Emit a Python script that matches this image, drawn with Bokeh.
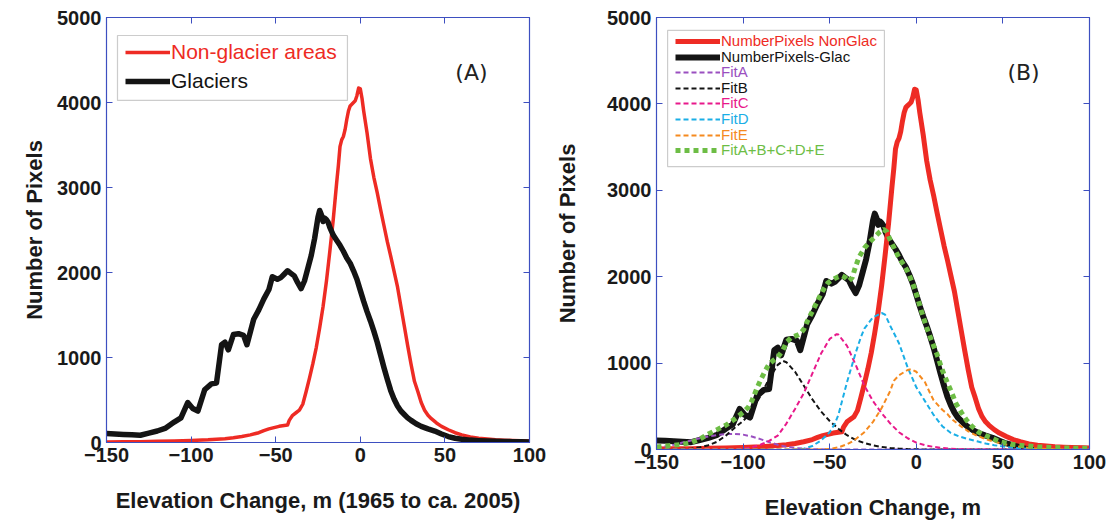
from bokeh.plotting import figure
from bokeh.layouts import row
from bokeh.models import (Range1d, LinearAxis, FixedTicker, Legend, LegendItem,
                          BoxAnnotation, Label)
from bokeh.embed import file_html
from bokeh.resources import INLINE

# ---------------- data ----------------
x_ticks = [-150, -100, -50, 0, 50, 100]
y_ticks = [0, 1000, 2000, 3000, 4000, 5000]

glac_x = [-150, -145, -140, -135, -130, -125, -120, -115, -110, -106, -102, -99, -96, -92,
          -88, -85, -82, -80, -78, -75, -72, -69, -67, -65, -63, -60, -57, -54, -52, -49,
          -47, -45, -43, -41, -39, -37, -35, -33, -31, -29, -27, -25, -24, -23, -22, -21,
          -20, -19, -18, -16, -14, -12, -10, -8, -6, -4, -2, 0, 2, 4, 6, 8, 10, 12, 14, 16,
          18, 20, 22, 24, 26, 28, 30, 33, 36, 40, 44, 48, 52, 56, 60, 65, 70, 75, 80, 85,
          90, 95, 100]
glac_y = [105, 100, 95, 90, 85, 110, 135, 170, 240, 290, 470, 400, 370, 620,
          690, 700, 1150, 1180, 1090, 1270, 1280, 1260, 1150, 1300, 1450, 1560, 1690, 1800, 1950, 1920,
          1940, 1980, 2020, 1990, 1960, 1880, 1810, 1900, 2050, 2200, 2400, 2650, 2730, 2680, 2600, 2640,
          2620, 2590, 2530, 2440, 2380, 2320, 2250, 2170, 2110, 2020, 1920, 1790, 1660, 1540, 1430, 1310,
          1180, 1030, 880, 740, 610, 510, 430, 370, 330, 290, 260, 220, 190, 160, 135, 100, 70, 50,
          38, 28, 22, 18, 15, 12, 10, 8, 6]

nonglac_x = [-150, -140, -130, -120, -110, -100, -90, -80, -75, -70, -65, -60, -57, -54, -51,
             -48, -45, -43, -42, -40, -38, -36, -34, -32, -30, -28, -26, -24, -22, -20, -18,
             -16, -14, -13, -12, -11, -10, -9, -8, -7, -6, -5, -4, -3, -2, -1, 0, 1, 2, 4, 6,
             8, 10, 12, 14, 16, 18, 20, 22, 24, 26, 28, 30, 32, 34, 36, 38, 40, 42, 45, 48, 52,
             56, 60, 65, 70, 75, 80, 85, 90, 95, 100]
nonglac_y = [5, 8, 10, 14, 18, 24, 32, 45, 55, 70, 90, 115, 140, 160, 175,
             190, 200, 205, 260, 320, 350, 380, 450, 600, 760, 930, 1120, 1350, 1600, 1900, 2250,
             2620, 3050, 3250, 3480, 3560, 3600, 3680, 3800, 3900, 3960, 3980, 4000, 4020, 4080, 4170, 4160,
             4050, 3900, 3640, 3340, 3120, 2940, 2740, 2550, 2360, 2190, 2010, 1830, 1600, 1370, 1140, 920,
             720, 600, 470, 380, 320, 280, 230, 190, 150, 115, 90, 65, 50, 40, 32, 27, 24, 21, 18]

fitA_x = [-150, -145, -140, -135, -130, -125, -120, -115, -110, -105, -100, -95, -90, -85,
          -80, -75, -70, -65, -60, -55, -50, -40, 0, 50, 100]
fitA_y = [20, 35, 55, 80, 105, 130, 150, 168, 178, 181, 172, 150, 120, 85,
          55, 32, 18, 9, 4, 2, 1, 0, 0, 0, 0]

fitB_x = [-150, -140, -130, -125, -120, -115, -110, -105, -100, -95, -90, -85, -80, -77,
          -75, -70, -65, -60, -55, -50, -45, -40, -35, -30, -25, -20, -15, -10, -5, 0, 5,
          50, 100]
fitB_y = [0, 2, 10, 25, 50, 90, 160, 250, 330, 440, 620, 820, 980, 1025,
          1010, 900, 740, 580, 440, 330, 240, 165, 110, 75, 48, 30, 18, 10, 5, 2, 1,
          0, 0]

fitC_x = [-150, -110, -100, -95, -90, -85, -80, -75, -70, -65, -60, -55, -50, -46, -45,
          -40, -35, -30, -25, -20, -15, -10, -5, 0, 5, 10, 15, 20, 25, 30, 35, 100]
fitC_y = [0, 2, 10, 25, 55, 100, 160, 300, 470, 650, 880, 1110, 1280, 1335, 1330,
          1200, 980, 740, 560, 420, 300, 200, 130, 80, 50, 30, 18, 10, 5, 2, 0, 0]

fitD_x = [-150, -70, -65, -60, -55, -50, -47, -45, -40, -35, -32, -30, -25, -20, -18,
          -15, -10, -5, 0, 5, 10, 15, 20, 25, 30, 35, 40, 45, 50, 55, 60, 65, 70, 80, 90, 100]
fitD_y = [0, 0, 10, 40, 105, 200, 300, 400, 780, 1120, 1300, 1400, 1530, 1580, 1560,
          1430, 1230, 950, 720, 560, 400, 270, 190, 150, 120, 95, 70, 50, 35, 22, 14, 8, 5, 2, 0, 0]

fitE_x = [-150, -60, -50, -45, -40, -36, -30, -25, -20, -15, -13, -10, -5, -3, 0, 5, 8,
          10, 15, 18, 20, 25, 30, 35, 40, 45, 50, 55, 60, 65, 70, 75, 80, 90, 100]
fitE_y = [0, 0, 5, 25, 60, 104, 200, 320, 480, 680, 795, 860, 920, 930, 900, 780, 650,
          570, 460, 410, 360, 280, 210, 160, 120, 90, 65, 45, 30, 20, 12, 7, 4, 2, 1]

fitSum_x = [-150, -145, -140, -135, -130, -125, -120, -115, -110, -105, -100, -97, -95, -92,
            -90, -87, -85, -82, -80, -77, -75, -72, -69, -67, -65, -63, -60, -57, -54, -51,
            -48, -45, -43, -41, -39, -37, -35, -33, -30, -27, -24, -21, -19, -17, -15, -12,
            -10, -7, -5, -2, 0, 3, 6, 9, 12, 15, 18, 20, 23, 26, 29, 32, 36, 40, 43, 48, 55,
            62, 70, 80, 90, 100]
fitSum_y = [30, 40, 50, 60, 80, 120, 180, 230, 280, 350, 430, 490, 560, 710,
            800, 920, 990, 1040, 1070, 1150, 1240, 1300, 1320, 1340, 1390, 1480, 1600, 1720, 1840, 1930,
            1970, 2000, 2010, 1990, 1950, 1990, 2120, 2230, 2330, 2400, 2460, 2520, 2550, 2520, 2420, 2300,
            2220, 2130, 2060, 1920, 1800, 1600, 1410, 1250, 1100, 920, 770, 680, 530, 430, 340, 270, 200,
            160, 140, 90, 60, 45, 30, 22, 16, 12]

# ---------------- styles ----------------
AX_BLUE = "#3d4fc0"
RED = "#ee2b24"
BLACK = "#141414"
PURPLE = "#9a4fc0"
MAGENTA = "#e8198b"
CYAN = "#1aaee6"
ORANGE = "#f58a1f"
GREEN = "#6dbd45"
BOLD_FONT = "Liberation Sans"


def make_fig(fw, fh, bl, bt, bb, br, xlabel, ylab_standoff, xlab_standoff):
    p = figure(frame_width=fw, frame_height=fh,
               min_border_left=bl, min_border_top=bt, min_border_bottom=bb, min_border_right=br,
               x_range=Range1d(-150, 100), y_range=Range1d(0, 5000),
               output_backend="svg", toolbar_location=None,
               x_axis_label=xlabel, y_axis_label="Number of Pixels")
    p.grid.visible = False
    p.outline_line_color = AX_BLUE
    p.background_fill_color = "white"
    p.border_fill_color = "white"
    p.xaxis.ticker = FixedTicker(ticks=x_ticks)
    p.yaxis.ticker = FixedTicker(ticks=y_ticks)
    for ax in list(p.xaxis) + list(p.yaxis):
        ax.axis_line_color = AX_BLUE
        ax.axis_line_width = 1.2
        ax.major_tick_line_color = AX_BLUE
        ax.major_tick_in = 6
        ax.major_tick_out = 0
        ax.minor_tick_line_color = None
        ax.major_label_text_font = BOLD_FONT
        ax.major_label_text_font_style = "bold"
        ax.major_label_text_font_size = "20px"
        ax.major_label_text_color = "#1a1a1a"
        ax.major_label_standoff = 5
        ax.axis_label_text_font = BOLD_FONT
        ax.axis_label_text_font_style = "bold"
        ax.axis_label_text_font_size = "22px"
        ax.axis_label_text_color = "#1a1a1a"
    p.yaxis.axis_label_standoff = ylab_standoff
    p.xaxis.axis_label_standoff = xlab_standoff
    for ticks, side in ((x_ticks, "above"), (y_ticks, "right")):
        ax = LinearAxis(ticker=FixedTicker(ticks=ticks))
        ax.axis_line_color = AX_BLUE
        ax.axis_line_width = 1.2
        ax.major_tick_line_color = AX_BLUE
        ax.major_tick_in = 6
        ax.major_tick_out = 0
        ax.minor_tick_line_color = None
        ax.major_label_text_color = None
        ax.major_label_text_font_size = "0px"
        ax.major_label_standoff = 0
        p.add_layout(ax, side)
    return p


def add_legend(p, r, text, color, x, y, size, gh):
    lg = Legend(items=[LegendItem(label=text, renderers=[r])], location=(x, y),
                border_line_color=None, background_fill_alpha=0, padding=0, margin=0, spacing=0,
                glyph_width=45, glyph_height=gh, label_height=gh, label_standoff=1,
                label_text_font="Liberation Sans", label_text_font_size=size,
                label_text_color=color, label_text_baseline="middle")
    p.add_layout(lg, "center")


# ---------------- panel A ----------------
pA = make_fig(423, 425, 106, 17, 75, 23, "Elevation Change, m (1965 to ca. 2005)", 7, 23)
rA_red = pA.line(nonglac_x, nonglac_y, line_color=RED, line_width=3.5, line_join="round")
rA_blk = pA.line(glac_x, glac_y, line_color=BLACK, line_width=5.5, line_join="round")
pA.add_layout(BoxAnnotation(left=-143.5, right=-7.6, bottom=4024, top=4788,
                            fill_color=None, line_color="#555555", line_width=1.2))
add_legend(pA, rA_red, "Non-glacier areas", RED, 19, 378, "21px", 22)
add_legend(pA, rA_blk, "Glaciers", BLACK, 19, 349, "21px", 22)
pA.add_layout(Label(x=65.7, y=4353, text="(A)", text_align="center", text_baseline="middle",
                    text_font="DejaVu Sans", text_font_size="22px", text_color="#222222"))

# ---------------- panel B ----------------
pB = make_fig(433, 432, 104, 17, 75, 19, "Elevation Change, m", 24, 23)
rB_blk = pB.line(glac_x, glac_y, line_color=BLACK, line_width=6, line_join="round")
rB_red = pB.line(nonglac_x, nonglac_y, line_color=RED, line_width=5, line_join="round")
rB_A = pB.line(fitA_x, fitA_y, line_color=PURPLE, line_width=2, line_dash="5 3")
rB_B = pB.line(fitB_x, fitB_y, line_color=BLACK, line_width=2, line_dash="5 3")
rB_C = pB.line(fitC_x, fitC_y, line_color=MAGENTA, line_width=2, line_dash="5 3")
rB_D = pB.line(fitD_x, fitD_y, line_color=CYAN, line_width=2, line_dash="5 3")
rB_E = pB.line(fitE_x, fitE_y, line_color=ORANGE, line_width=2, line_dash="5 3")
rB_S = pB.line(fitSum_x, fitSum_y, line_color=GREEN, line_width=5, line_dash="5 4")
pB.add_layout(BoxAnnotation(left=-143.6, right=-18.4, bottom=3275, top=4850,
                            fill_color=None, line_color="#555555", line_width=1.2))
rows_y = [400, 384, 369, 353, 338, 322, 306, 291]
entries = [(rB_red, "NumberPixels NonGlac", RED), (rB_blk, "NumberPixels-Glac", BLACK),
           (rB_A, "FitA", PURPLE), (rB_B, "FitB", BLACK), (rB_C, "FitC", MAGENTA),
           (rB_D, "FitD", CYAN), (rB_E, "FitE", ORANGE), (rB_S, "FitA+B+C+D+E", GREEN)]
for (r, t, c), yy in zip(entries, rows_y):
    add_legend(pB, r, t, c, 19, yy, "15px", 14)
pB.add_layout(Label(x=61.9, y=4363, text="(B)", text_align="center", text_baseline="middle",
                    text_font="DejaVu Sans", text_font_size="22px", text_color="#222222"))

layout = row(pA, pB)
open("out.html", "w").write(file_html(layout, INLINE))
